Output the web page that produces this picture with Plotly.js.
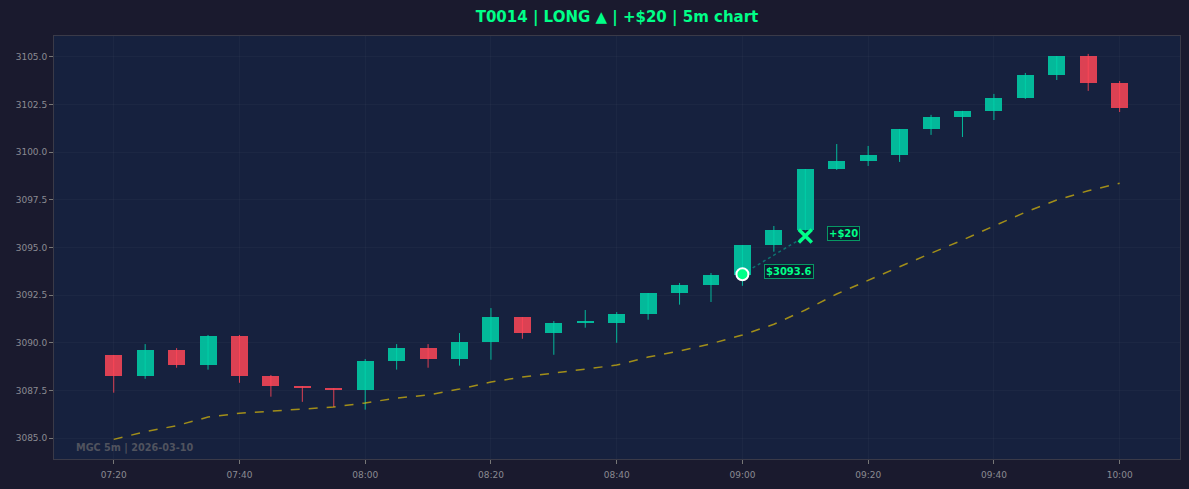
<!DOCTYPE html>
<html>
<head>
<meta charset="utf-8">
<script src="https://cdn.plot.ly/plotly-3.0.1.min.js"></script>
<style>html,body{margin:0;padding:0;background:#1a1a2e;}#chart{width:1189px;height:489px;}</style>
</head>
<body>
<div id="chart"></div>
<script>
const times = ["07:20","07:25","07:30","07:35","07:40","07:45","07:50","07:55","08:00","08:05","08:10",
  "08:15","08:20","08:25","08:30","08:35","08:40","08:45","08:50","08:55","09:00",
  "09:05","09:10","09:15","09:20","09:25","09:30","09:35","09:40","09:45","09:50","09:55","10:00"];
const opens  = [3089.36,3088.27,3089.62,3088.85,3090.35,3088.25,3087.73,3087.62,3087.54,3089.06,3089.72,
  3089.16,3090.06,3091.35,3090.53,3091.05,3091.05,3091.52,3092.63,3093.03,3093.56,
  3095.15,3095.92,3099.12,3099.54,3099.86,3101.22,3101.85,3102.17,3102.85,3104.06,3105.05,3103.64];
const highs  = [3089.36,3089.93,3089.72,3090.41,3090.41,3088.31,3087.73,3087.62,3089.15,3089.93,3089.93,
  3090.51,3091.82,3091.35,3091.14,3091.72,3091.61,3092.61,3093.14,3093.66,3095.13,
  3096.13,3099.12,3100.43,3100.33,3101.22,3101.96,3102.17,3103.06,3104.16,3105.05,3105.16,3103.74];
const lows   = [3087.38,3088.11,3088.69,3088.59,3087.90,3087.17,3086.90,3086.63,3086.49,3088.59,3088.69,
  3088.80,3089.11,3090.21,3089.37,3090.79,3090.00,3091.21,3092.00,3092.14,3092.99,
  3094.78,3095.90,3099.07,3099.28,3099.49,3100.91,3100.80,3101.69,3102.80,3103.79,3103.22,3102.11];
const closes = [3088.27,3089.62,3088.85,3090.35,3088.27,3087.75,3087.64,3087.54,3089.04,3089.72,3089.16,
  3090.04,3091.35,3090.53,3091.04,3091.12,3091.51,3092.61,3093.03,3093.56,3095.13,
  3095.92,3099.12,3099.54,3099.86,3101.22,3101.85,3102.17,3102.85,3104.06,3105.05,3103.64,3102.32];
const maLine = [3084.93,3085.33,3085.65,3086.10,3086.30,3086.42,3086.52,3086.63,3086.84,3087.10,3087.26,
  3087.57,3087.94,3088.20,3088.41,3088.62,3088.83,3089.25,3089.57,3089.95,3090.41,
  3090.97,3091.72,3092.56,3093.29,3093.99,3094.70,3095.39,3096.13,3096.85,3097.49,3097.98,3098.37];
const tradeDate = "2026-03-10";
const entryTime = "09:00", entryPrice = 3093.6;
const exitTime = "09:10", exitPrice = 3095.6;
const pnlText = "+$20";
const titleText = "T0014 | LONG ▲ | +$20 | 5m chart";
const watermark = "MGC 5m | 2026-03-10";

const GREEN = "rgba(0,212,170,0.85)", RED = "rgba(255,71,87,0.85)";
const ts = t => tradeDate + " " + t + ":00";
const xs = times.map(ts);

const upX=[],upBase=[],upH=[],dnX=[],dnBase=[],dnH=[];
const upWx=[],upWy=[],dnWx=[],dnWy=[];
for (let i=0;i<xs.length;i++){
  const up = closes[i] >= opens[i];
  const lo = Math.min(opens[i],closes[i]), h = Math.abs(closes[i]-opens[i]);
  if (up){ upX.push(xs[i]); upBase.push(lo); upH.push(h); upWx.push(xs[i],xs[i],null); upWy.push(lows[i],highs[i],null); }
  else { dnX.push(xs[i]); dnBase.push(lo); dnH.push(h); dnWx.push(xs[i],xs[i],null); dnWy.push(lows[i],highs[i],null); }
}
const barW = 2.7*60*1000;

const traces = [
  {type:"bar", x:upX, y:upH, base:upBase, width:barW, marker:{color:GREEN, line:{width:0}}, hoverinfo:"skip", showlegend:false},
  {type:"bar", x:dnX, y:dnH, base:dnBase, width:barW, marker:{color:RED, line:{width:0}}, hoverinfo:"skip", showlegend:false},
  {type:"scatter", mode:"lines", x:upWx, y:upWy, line:{color:GREEN, width:1}, showlegend:false, hoverinfo:"skip"},
  {type:"scatter", mode:"lines", x:dnWx, y:dnWy, line:{color:RED, width:1}, showlegend:false, hoverinfo:"skip"},
  {type:"scatter", mode:"lines", x:xs, y:maLine, line:{color:"rgba(255,215,0,0.6)", width:1.5, dash:"dash"}, showlegend:false},
  {type:"scatter", mode:"lines", x:[ts(entryTime), ts(exitTime)], y:[entryPrice, exitPrice],
    line:{color:"rgba(0,212,170,0.45)", width:1.5, dash:"dot"}, showlegend:false},
  {type:"scatter", mode:"markers", x:[ts(entryTime)], y:[entryPrice],
    marker:{symbol:"circle", size:12, color:"#00ff88", line:{color:"#ffffff", width:2}}, showlegend:false},
  {type:"scatter", mode:"markers", x:[ts(exitTime)], y:[exitPrice],
    marker:{symbol:"x-thin", size:13, color:"#00ff88", line:{color:"#00ff88", width:3.5}}, showlegend:false}
];

const axisCommon = {
  showgrid:true, gridcolor:"rgba(255,255,255,0.028)", zeroline:false,
  showline:true, linecolor:"#3a3a48", linewidth:1, mirror:true,
  ticks:"outside", ticklen:4, tickcolor:"#777", tickwidth:1,
  tickfont:{family:"DejaVu Sans", size:9, color:"#8a8a92"}
};

const layout = {
  width:1189, height:489,
  paper_bgcolor:"#1a1a2e", plot_bgcolor:"#16213e",
  margin:{l:54, r:9, t:36, b:30},
  showlegend:false, bargap:0,
  title:{text:"<b>"+titleText+"</b>", x:0.5, xref:"paper", y:0.965, yanchor:"middle",
    font:{family:"DejaVu Sans", size:15, color:"#00ff88"}},
  xaxis:Object.assign({}, axisCommon, {type:"date",
    range:[tradeDate+" 07:10:30", tradeDate+" 10:09:36"],
    tick0:ts("07:20"), dtick:20*60*1000, tickformat:"%H:%M", ticklabelstandoff:3}),
  yaxis:Object.assign({}, axisCommon, {range:[3083.90, 3106.10], dtick:2.5, tick0:3085, tickformat:".1f"}),
  annotations:[
    {x:ts(entryTime), y:entryPrice, xref:"x", yref:"y", text:"<b>$"+entryPrice.toFixed(1)+"</b>", showarrow:false,
      xanchor:"left", xshift:22, yshift:3, font:{family:"DejaVu Sans", size:10, color:"#00ff88"},
      bgcolor:"rgba(12,22,44,0.75)", bordercolor:"rgba(0,255,136,0.55)", borderwidth:1, borderpad:1},
    {x:ts(exitTime), y:exitPrice, xref:"x", yref:"y", text:"<b>"+pnlText+"</b>", showarrow:false,
      xanchor:"left", xshift:22, yshift:3, font:{family:"DejaVu Sans", size:10, color:"#00ff88"},
      bgcolor:"rgba(12,22,44,0.75)", bordercolor:"rgba(0,255,136,0.55)", borderwidth:1, borderpad:1},
    {x:0.02, y:0.02, xref:"paper", yref:"paper", xanchor:"left", yanchor:"bottom", showarrow:false,
      xshift:-3, yshift:-5,
      text:"<b>"+watermark+"</b>", font:{family:"DejaVu Sans", size:9.7, color:"#50535e"}}
  ]
};

Plotly.newPlot("chart", traces, layout, {displayModeBar:false, staticPlot:true});
</script>
</body>
</html>
